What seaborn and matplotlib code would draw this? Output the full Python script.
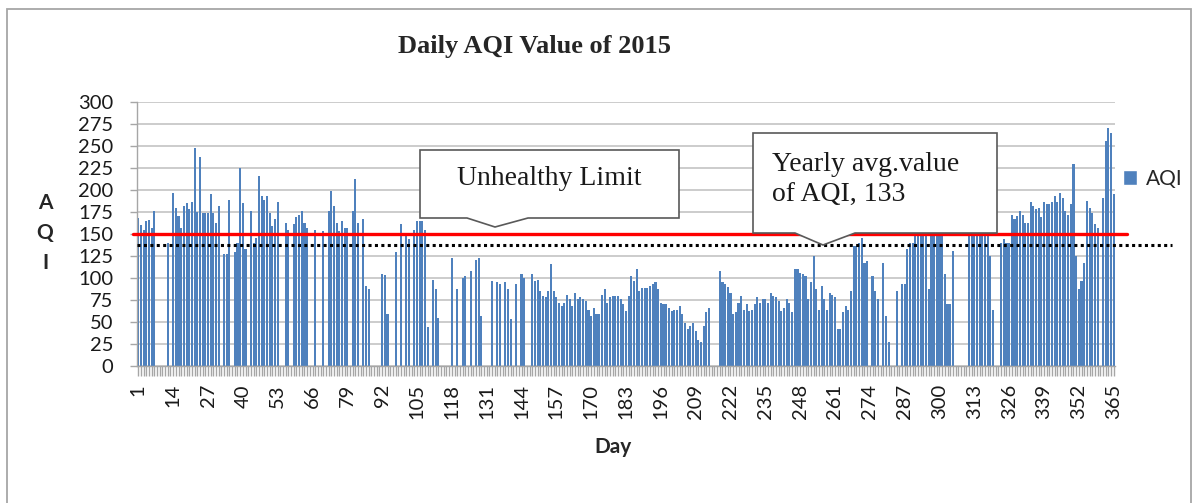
# ============================================================
# Daily AQI Value of 2015 - bar chart
# ============================================================

import pandas as pd
import matplotlib.pyplot as plt
import seaborn as sns
from matplotlib.patches import Polygon, Patch, Rectangle

# ============================================================
# Data (one list per month)
# ============================================================

aqi_jan = [168, 160, 155, 165, 166, 157, 176, 0, 0, 0, 0, 140, 0, 197, 180, 170,
           157, 182, 185, 178, 186, 248, 175, 237, 174, 174, 174, 195, 174, 163, 182]
aqi_feb = [0, 127, 127, 189, 0, 129, 140, 225, 185, 133, 0, 176, 140, 146, 216,
           193, 189, 193, 174, 159, 167, 186, 0, 0, 163, 155, 0, 161]
aqi_mar = [169, 172, 176, 163, 157, 0, 0, 155, 0, 0, 153, 0, 176, 199, 182, 163,
           153, 165, 157, 157, 0, 176, 212, 163, 0, 167, 91, 87, 0, 0, 0]
aqi_apr = [0, 104, 103, 59, 0, 0, 129, 0, 161, 0, 148, 144, 0, 155, 165, 165,
           165, 155, 44, 0, 98, 87, 55, 0, 0, 0, 0, 123, 0, 87]
aqi_may = [0, 100, 102, 0, 108, 0, 121, 123, 57, 0, 0, 0, 97, 0, 95, 93, 0, 95,
           87, 53, 0, 93, 0, 104, 100, 0, 0, 104, 97, 98, 85]
aqi_jun = [80, 78, 85, 116, 85, 78, 72, 68, 72, 81, 76, 68, 83, 76, 78, 76, 74,
           64, 57, 66, 59, 59, 81, 87, 72, 78, 80, 80, 80, 76]
aqi_jul = [70, 62, 80, 102, 97, 110, 85, 89, 89, 89, 91, 93, 95, 87, 72, 70, 70,
           66, 62, 64, 64, 68, 59, 49, 42, 45, 49, 40, 30, 27, 45]
aqi_aug = [61, 66, 0, 0, 0, 108, 95, 93, 90, 83, 59, 61, 72, 80, 64, 70, 62, 64,
           70, 78, 72, 76, 76, 72, 83, 80, 78, 74, 62, 66, 76]
aqi_sep = [72, 61, 110, 110, 106, 104, 102, 76, 95, 125, 87, 64, 91, 76, 64, 83,
           81, 78, 42, 42, 61, 68, 64, 85, 136, 136, 140, 146, 117, 119]
aqi_oct = [0, 102, 85, 76, 0, 117, 57, 27, 0, 0, 85, 0, 93, 93, 133, 140, 140,
           155, 160, 165, 158, 170, 87, 152, 160, 165, 158, 150, 104, 70, 70]
aqi_nov = [131, 0, 0, 0, 0, 0, 165, 160, 170, 160, 165, 155, 150, 148, 125, 64,
           0, 0, 140, 144, 140, 140, 172, 167, 170, 176, 172, 163, 163, 186]
aqi_dec = [182, 178, 180, 169, 186, 184, 184, 186, 193, 186, 197, 191, 176, 172,
           184, 229, 125, 87, 97, 117, 188, 180, 174, 161, 157, 0, 191, 256, 270,
           265, 195]

unhealthy_limit = 150
yearly_avg_line = 137
y_ticks = list(range(0, 301, 25))
label_days = list(range(1, 366, 13))

aqi = (aqi_jan + aqi_feb + aqi_mar + aqi_apr + aqi_may + aqi_jun +
       aqi_jul + aqi_aug + aqi_sep + aqi_oct + aqi_nov + aqi_dec)
days = list(range(1, len(aqi) + 1))

df = pd.DataFrame({"Day": days, "AQI": aqi})

# ============================================================
# Figure
# ============================================================

sns.set_theme(style="white")
plt.rcParams["font.family"] = ["Lato", "DejaVu Sans"]

W, H = 1198, 503


def px(x, y):
    return (x / W, 1 - y / H)


fig = plt.figure(figsize=(W / 100, H / 100), dpi=100)
fig.patch.set_facecolor("white")

# outer chart frame
fig.patches.append(Rectangle(px(7, 520), (1191 - 7) / W, (520 - 9) / H,
                             transform=fig.transFigure, fill=False,
                             edgecolor="#A6A6A6", lw=1.3, zorder=0))

ax_left, ax_right, ax_top, ax_bottom = 137, 1115, 102, 366
ax = fig.add_axes([ax_left / W, 1 - ax_bottom / H,
                   (ax_right - ax_left) / W, (ax_bottom - ax_top) / H])

blue = "#4F81BD"
sns.barplot(data=df, x="Day", y="AQI", color=blue, saturation=1,
            width=0.78, ax=ax, zorder=2, edgecolor="none", linewidth=0)

# ============================================================
# Axes styling
# ============================================================

ax.set_ylim(0, 300)
ax.set_xlim(-0.5, len(days) - 0.5)
ax.set_yticks(y_ticks)
ax.set_yticklabels([str(t) for t in y_ticks], fontsize=14.5, color="#1a1a1a")
ax.yaxis.grid(True, color="#BFBFBF", lw=1.1, zorder=0)
ax.set_axisbelow(True)

ax.set_xticks(range(len(days)))
ax.set_xticklabels([str(d) if d in label_days else "" for d in days],
                   rotation=90, fontsize=14.5, color="#1a1a1a")
ax.tick_params(axis="x", length=7, width=1.0, color="#A6A6A6", pad=6,
               bottom=True)
ax.tick_params(axis="y", length=5, width=1.0, color="#A6A6A6", pad=12,
               left=True)

for s in ["top", "right"]:
    ax.spines[s].set_visible(False)
for s in ["left", "bottom"]:
    ax.spines[s].set_color("#A6A6A6")
    ax.spines[s].set_linewidth(1.0)

ax.set_xlabel("")
ax.set_ylabel("")

# reference lines
span = ax_right - ax_left
ax.axhline(unhealthy_limit, xmin=(133 - ax_left) / span,
           xmax=(1127 - ax_left) / span, color="#FF0000", lw=2.4,
           clip_on=False, zorder=4)
ax.axhline(yearly_avg_line, xmin=0, xmax=(1172 - ax_left) / span,
           color="black", lw=2.2, ls=(0, (1, 1.1)), clip_on=False, zorder=4)

# ============================================================
# Texts
# ============================================================

fig.text(*px(534, 46), "Daily AQI Value of 2015", ha="center", va="center",
         fontsize=19, fontweight="bold", family=["Liberation Serif"])
fig.text(*px(613, 447), "Day", ha="center", va="center",
         fontsize=15, fontweight="bold")
fig.text(*px(45, 233), "A\nQ\nI", ha="center", va="center",
         fontsize=15, fontweight="bold", linespacing=1.6)

fig.legend(handles=[Patch(facecolor=blue, label="AQI")], loc="upper left",
           bbox_to_anchor=px(1104, 150), bbox_transform=fig.transFigure,
           frameon=False, handlelength=0.7, handleheight=0.7,
           handletextpad=0.4, fontsize=15)

# ============================================================
# Callouts
# ============================================================

callout_style = dict(closed=True, facecolor="white", edgecolor="#595959",
                     lw=1.2, transform=fig.transFigure, zorder=5)

box1 = [(420, 150), (679, 150), (679, 218), (528, 218), (495, 227),
        (467, 218), (420, 218)]
fig.patches.append(Polygon([px(x, y) for x, y in box1], **callout_style))
fig.text(*px(549, 178), "Unhealthy Limit", ha="center", va="center",
         fontsize=20, family=["Liberation Serif"], color="#1a1a1a", zorder=6)

box2 = [(753, 133), (997, 133), (997, 233), (855, 233), (823, 245),
        (795, 233), (753, 233)]
fig.patches.append(Polygon([px(x, y) for x, y in box2], **callout_style))
fig.text(*px(772, 180), "Yearly avg.value\nof AQI, 133", ha="left",
         va="center", fontsize=20, family=["Liberation Serif"],
         color="#1a1a1a", linespacing=1.35, zorder=6)

plt.savefig("out.png", dpi=100)
